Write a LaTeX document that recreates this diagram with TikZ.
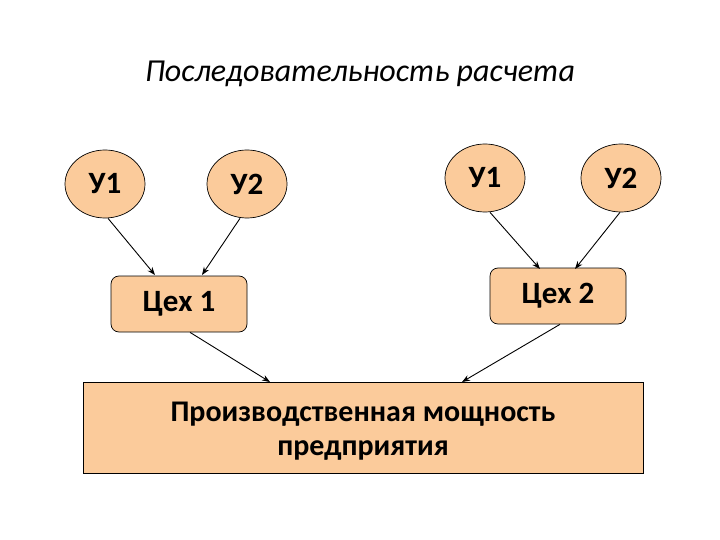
\documentclass[tikz,border=0pt]{standalone}
\usepackage{fontspec}
\setmainfont{Carlito}
\usetikzlibrary{arrows.meta,shapes.geometric}
\definecolor{peach}{RGB}{251,203,155}
\tikzset{
  oval/.style={ellipse, draw=black, fill=peach, line width=0.7pt, minimum width=80pt, minimum height=68pt, inner sep=0pt, font=\bfseries\fontsize{31}{36}\selectfont},
  shop/.style={rectangle, rounded corners=8pt, draw=black, fill=peach, line width=0.7pt, minimum width=136pt, minimum height=56pt, font=\bfseries\fontsize{31}{36}\selectfont},
  total/.style={rectangle, draw=black, fill=peach, line width=0.9pt, minimum width=560pt, minimum height=91pt, align=center, font=\bfseries\fontsize{30}{34}\selectfont},
  arr/.style={-{Stealth[length=8pt,width=6pt]}, line width=0.9pt, black}
}
\begin{document}
\begin{tikzpicture}[x=1pt,y=-1pt]
\useasboundingbox (0,0) rectangle (720,540);
\node[font=\itshape\fontsize{32}{36}\selectfont] (title) at (360,74) {Последовательность расчета};
\node[oval] (a1) at (105,184) {У1};
\node[oval] (a2) at (247,184) {У2};
\node[oval] (b1) at (485,178) {У1};
\node[oval] (b2) at (621,178) {У2};
\node[shop] (c1) at (179,304) {Цех 1};
\node[shop] (c2) at (558,296) {Цех 2};
\node[total] (t) at (363,427.5) {};
\node[font=\bfseries\fontsize{30}{34}\selectfont, align=center] (tlabel) at (363,431) {Производственная мощность\\предприятия};
\coordinate (c1in1) at (155,275);
\coordinate (c1in2) at (202,275);
\coordinate (c2in1) at (540,269);
\coordinate (c2in2) at (575,269);
\coordinate (tin1) at (270,382);
\coordinate (tin2) at (462,382);
\draw[arr] (a1.south) ++(3,0) -- (c1in1);
\draw[arr] (a2.south) ++(-7,0) -- (c1in2);
\draw[arr] (b1.south) ++(5,0) -- (c2in1);
\draw[arr] (b2.south) ++(-1,0) -- (c2in2);
\draw[arr] (c1.south) ++(11,0) -- (tin1);
\draw[arr] (c2.south) ++(2,0) -- (tin2);
\end{tikzpicture}
\end{document}
